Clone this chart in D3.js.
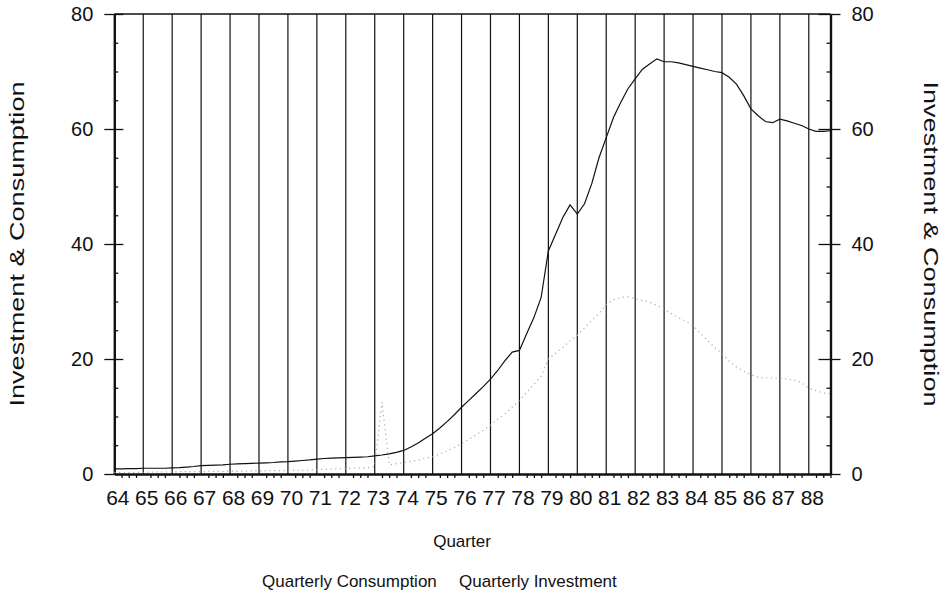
<!DOCTYPE html>
<html>
<head>
<meta charset="utf-8">
<script src="https://cdn.jsdelivr.net/npm/d3@7"></script>
<style>
  html, body { margin: 0; padding: 0; background: #fff; }
  svg { display: block; }
  text { font-family: "Liberation Sans", Arial, Helvetica, sans-serif; fill: #111; }
</style>
</head>
<body>
<svg id="chart" width="950" height="595"></svg>
<script>
// Two-digit years on the quarter axis (64 = 1964)
const years = [64,65,66,67,68,69,70,71,72,73,74,75,76,77,78,79,80,81,82,83,84,85,86,87,88];
const quarterNames = ["Q1","Q2","Q3","Q4"];

// Quarterly consumption, 64Q1 .. 88Q4
const consumption = [
  0.9, 0.9, 0.95, 0.95,
  1.0, 1.0, 1.0, 1.0,
  1.05, 1.1, 1.2, 1.3,
  1.45, 1.5, 1.55, 1.6,
  1.7, 1.75, 1.8, 1.85,
  1.9, 1.95, 2.0, 2.1,
  2.15, 2.25, 2.35, 2.45,
  2.6, 2.7, 2.75, 2.8,
  2.85, 2.9, 2.95, 3.0,
  3.15, 3.3, 3.5, 3.75,
  4.1, 4.7, 5.4, 6.2,
  7.0, 8.0, 9.1, 10.3,
  11.6, 12.8, 14.0, 15.2,
  16.5, 18.0, 19.7, 21.2,
  21.5, 24.4, 27.2, 30.7,
  38.8, 41.7, 44.6, 46.8,
  45.2, 47.0, 50.5, 55.0,
  58.5, 62.0, 64.6, 67.0,
  68.7, 70.4, 71.3, 72.2,
  71.7, 71.7, 71.5, 71.2,
  70.9, 70.6, 70.3, 70.0,
  69.8, 69.0, 67.8, 65.8,
  63.5, 62.3, 61.3, 61.1,
  61.7, 61.4, 61.0, 60.6,
  60.0, 59.6, 59.6, 59.7
];

// Quarterly investment, 64Q1 .. 88Q4
const investment = [
  0.3, 0.3, 0.3, 0.3,
  0.3, 0.35, 0.35, 0.35,
  0.35, 0.4, 0.4, 0.4,
  0.4, 0.45, 0.45, 0.45,
  0.5, 0.5, 0.5, 0.55,
  0.55, 0.55, 0.6, 0.6,
  0.6, 0.65, 0.65, 0.7,
  0.75, 0.8, 0.85, 0.9,
  0.95, 1.0, 1.05, 1.1,
  1.3, 12.5, 1.6, 1.8,
  2.0, 2.2, 2.4, 2.7,
  3.0, 3.5, 4.0, 4.6,
  5.3, 6.0, 6.8, 7.6,
  8.5, 9.5, 10.5, 11.6,
  12.8, 14.2, 15.6, 17.0,
  20.0, 21.0, 22.0, 23.2,
  24.1, 25.4, 26.7, 27.9,
  29.5, 30.3, 30.7, 30.8,
  30.5, 30.2, 29.9, 29.3,
  28.6, 27.9, 27.2, 26.6,
  25.8, 24.5, 23.2, 22.0,
  21.0, 19.6, 18.6, 17.9,
  17.3, 16.8, 16.7, 16.7,
  16.7, 16.5, 16.3, 15.9,
  14.9, 14.5, 14.1, 13.9
];

const yTicks = [0, 20, 40, 60, 80];
const yMinorTicks = [5, 10, 15, 25, 30, 35, 45, 50, 55, 65, 70, 75];
const seriesNames = ["Quarterly Consumption", "Quarterly Investment"];
const axisTitle = "Investment & Consumption";
const xTitle = "Quarter";

// quarter labels, e.g. "64Q1"
const quarters = [];
years.forEach(yr => quarterNames.forEach(q => quarters.push(yr + q)));

const svg = d3.select("#chart");
const margin = { left: 114.3, right: 830.5, top: 14, bottom: 474 };

const x = d3.scaleLinear().domain([0, quarters.length - 1]).range([margin.left, margin.right]);
const y = d3.scaleLinear().domain([0, 80]).range([margin.bottom, margin.top]);

const yearIdx = years.map((yr, i) => i * 4);
const minorIdx = d3.range(quarters.length).filter(i => i % 4 !== 0);

// vertical year grid lines
svg.append("g")
  .selectAll("line")
  .data(yearIdx.slice(1))
  .join("line")
  .attr("x1", d => x(d)).attr("x2", d => x(d))
  .attr("y1", y(0)).attr("y2", y(80))
  .attr("stroke", "#111").attr("stroke-width", 1.2);

// top border
svg.append("line")
  .attr("x1", margin.left).attr("x2", margin.right)
  .attr("y1", y(80)).attr("y2", y(80))
  .attr("stroke", "#111").attr("stroke-width", 1.6);

function styleAxis(g, width) {
  g.select(".domain").attr("stroke", "#111").attr("stroke-width", width);
  g.selectAll(".tick line").attr("stroke", "#111").attr("stroke-width", 1.3);
}
function styleLabels(g, size) {
  g.selectAll(".tick text").attr("font-size", size)
    .style("font-family", "Liberation Sans, Arial, sans-serif").attr("fill", "#111");
}

// left axis: labelled majors outward, majors and minors inward
const gLeft = svg.append("g").attr("transform", `translate(${margin.left},0)`)
  .call(d3.axisLeft(y).tickValues(yTicks).tickSize(10).tickSizeOuter(0).tickPadding(11));
styleAxis(gLeft, 2.4);
styleLabels(gLeft, 20);
svg.append("g").attr("transform", `translate(${margin.left},0)`)
  .call(d3.axisRight(y).tickValues(yTicks).tickSize(9).tickSizeOuter(0).tickFormat(""))
  .call(g => styleAxis(g, 0));
svg.append("g").attr("transform", `translate(${margin.left},0)`)
  .call(d3.axisRight(y).tickValues(yMinorTicks).tickSize(4).tickSizeOuter(0).tickFormat(""))
  .call(g => styleAxis(g, 0));

// right axis
const gRight = svg.append("g").attr("transform", `translate(${margin.right},0)`)
  .call(d3.axisRight(y).tickValues(yTicks).tickSize(10).tickSizeOuter(0).tickPadding(11));
styleAxis(gRight, 2.4);
styleLabels(gRight, 20);
svg.append("g").attr("transform", `translate(${margin.right},0)`)
  .call(d3.axisLeft(y).tickValues(yTicks).tickSize(12).tickSizeOuter(0).tickFormat(""))
  .call(g => styleAxis(g, 0));
svg.append("g").attr("transform", `translate(${margin.right},0)`)
  .call(d3.axisLeft(y).tickValues(yMinorTicks).tickSize(4).tickSizeOuter(0).tickFormat(""))
  .call(g => styleAxis(g, 0));

// bottom axis: quarter ticks below, year labels
const gBottom = svg.append("g").attr("transform", `translate(0,${margin.bottom})`)
  .call(d3.axisBottom(x).tickValues(minorIdx).tickSize(4).tickSizeOuter(0).tickFormat(""));
styleAxis(gBottom, 2.4);
const gYears = svg.append("g").attr("transform", `translate(0,${margin.bottom})`)
  .call(d3.axisBottom(x).tickValues(yearIdx).tickSize(0).tickPadding(16)
    .tickFormat((d, i) => years[i]));
gYears.select(".domain").remove();
styleLabels(gYears, 21);
gYears.selectAll(".tick text").attr("dx", 3);

// series lines
const line = d3.line().x((d, i) => x(i)).y(d => y(d));
svg.append("path").datum(investment)
  .attr("d", line).attr("fill", "none")
  .attr("stroke", "#ababab").attr("stroke-width", 1.2)
  .attr("stroke-dasharray", "1.2 3.5");
svg.append("path").datum(consumption)
  .attr("d", line).attr("fill", "none")
  .attr("stroke", "#111").attr("stroke-width", 1.2);

// axis titles, stretched along the axis
const midY = (margin.top + margin.bottom) / 2;
svg.append("text")
  .attr("transform", `translate(24,${midY}) rotate(-90)`)
  .attr("text-anchor", "middle").attr("font-size", 20)
  .attr("textLength", 325).attr("lengthAdjust", "spacingAndGlyphs")
  .text(axisTitle);
svg.append("text")
  .attr("transform", `translate(924,${midY}) rotate(90)`)
  .attr("text-anchor", "middle").attr("font-size", 20)
  .attr("textLength", 325).attr("lengthAdjust", "spacingAndGlyphs")
  .text(axisTitle);
svg.append("text")
  .attr("x", 462).attr("y", 547)
  .attr("text-anchor", "middle").attr("font-size", 17)
  .text(xTitle);

// legend
svg.append("text").attr("x", 262).attr("y", 587).attr("font-size", 17).text(seriesNames[0]);
svg.append("text").attr("x", 459).attr("y", 587).attr("font-size", 17).text(seriesNames[1]);
</script>
</body>
</html>
